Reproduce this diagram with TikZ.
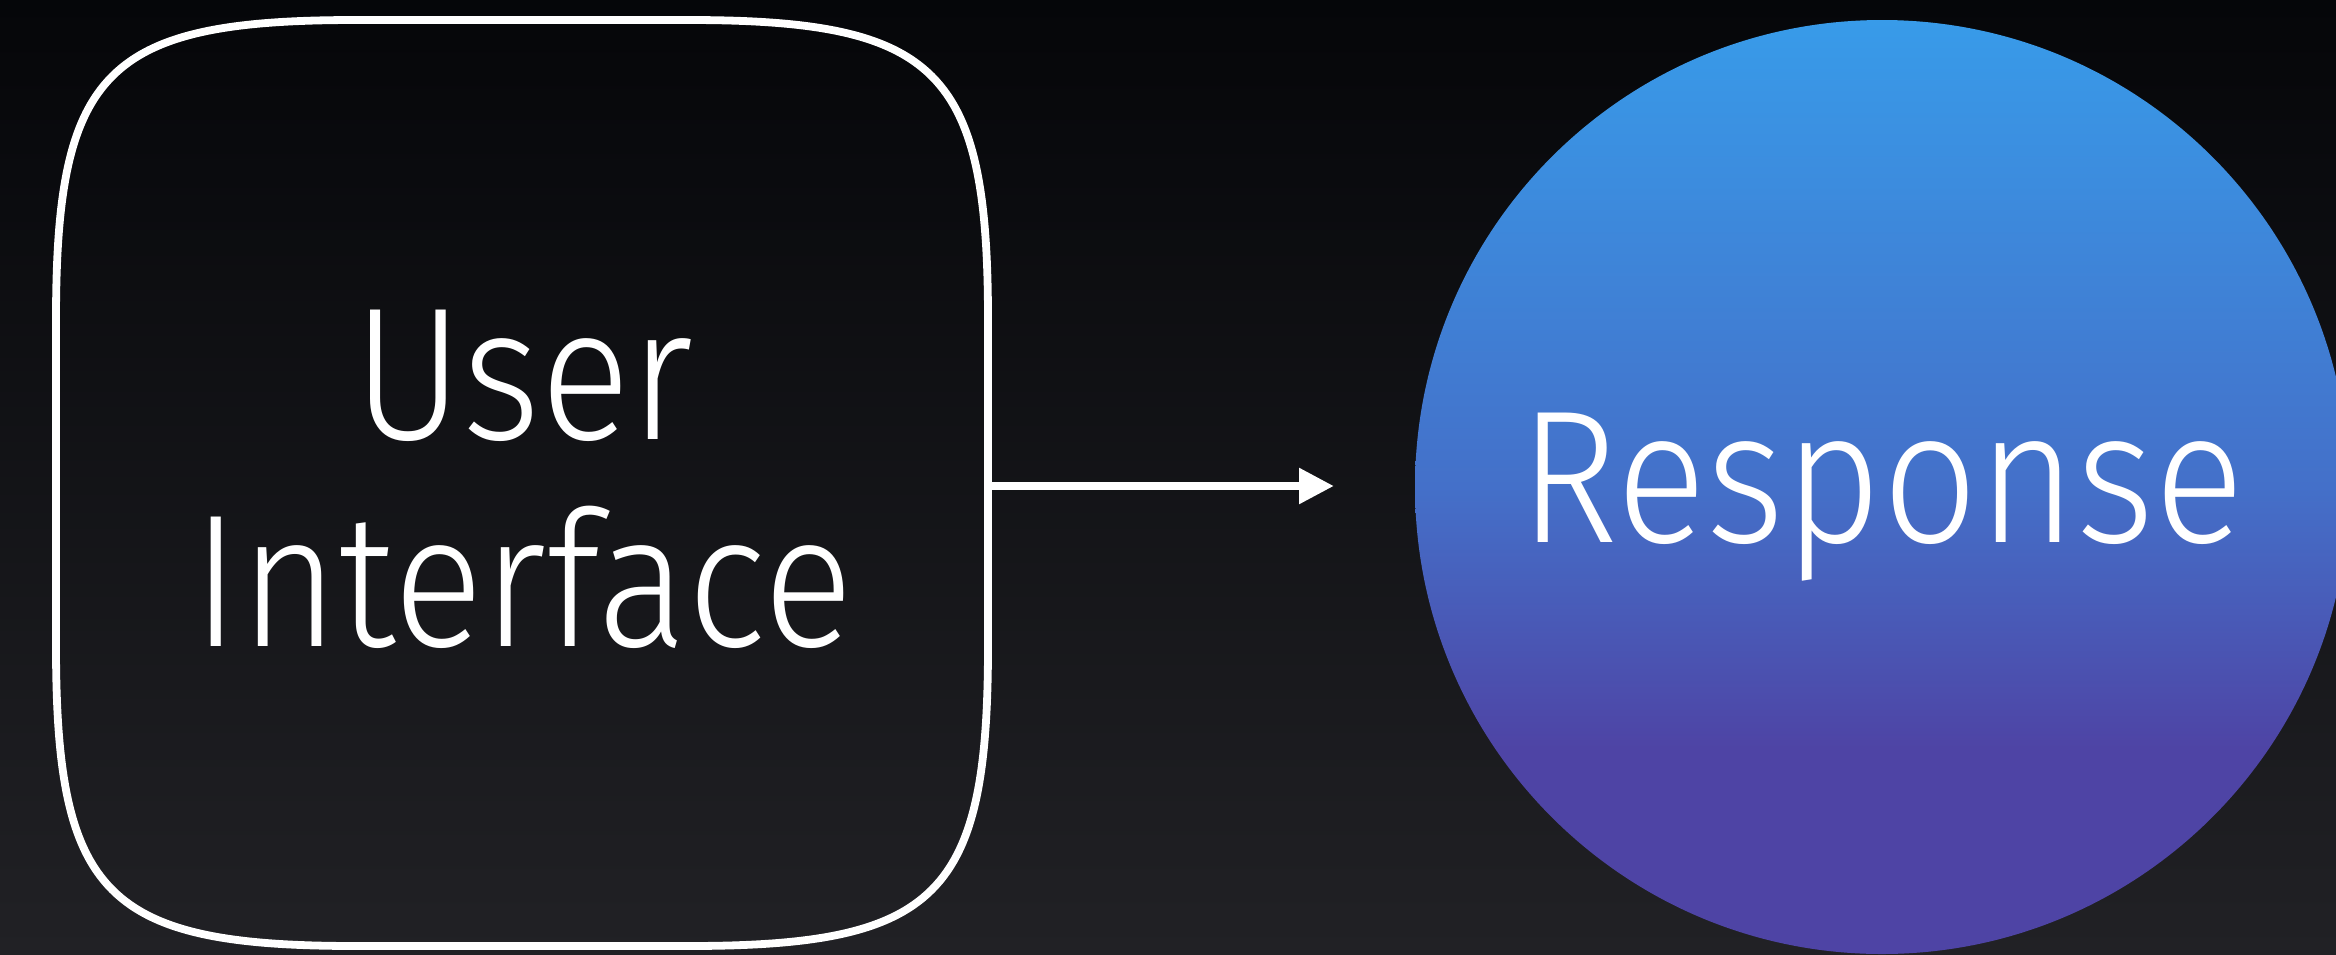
\documentclass[tikz,border=0pt]{standalone}
\usepackage{fontspec}
\setmainfont{Fira Sans}[UprightFont={* Light}, FakeStretch=0.89]
\usetikzlibrary{arrows.meta,calc}
\definecolor{bgtop}{HTML}{050609}
\definecolor{bgbot}{HTML}{212125}
\definecolor{cblue}{HTML}{389BE9}
\definecolor{cmid}{HTML}{4470C9}
\definecolor{cpurp}{HTML}{4E44A5}
\pgfdeclareverticalshading{respshade}{100bp}{color(0bp)=(cpurp); color(36bp)=(cpurp); color(50bp)=(cmid); color(75bp)=(cblue); color(100bp)=(cblue)}
\tikzset{
  lbl/.style={text=white, font=\fontsize{189}{207}\selectfont, align=center, inner sep=0pt},
  outline/.style={draw=white, line width=7.8pt},
  arr/.style={draw=white, line width=8.5pt, -{Triangle[length=35pt,width=34pt]}}
}
\begin{document}
\begin{tikzpicture}[x=1pt,y=-1pt]
\useasboundingbox (0,0) rectangle (2336,954);
\fill[top color=bgtop, bottom color=bgbot] (0,0) rectangle (2336,954);
\node[lbl, minimum width=932pt, minimum height=926pt] (ui) at (522,483) {};
\node[lbl] (uitext) at (523,479) {User\\Interface};
\draw[outline] (56,320) .. controls (56,70) and (106,20) .. (356,20) -- (688,20)
  .. controls (938,20) and (988,70) .. (988,320) -- (988,646)
  .. controls (988,896) and (938,946) .. (688,946) -- (356,946)
  .. controls (106,946) and (56,896) .. (56,646) -- cycle;
\node[circle, minimum size=934pt, shading=respshade] (resp) at (1882,487) {};
\node[lbl] (resptext) at (1882,497) {Response};
\coordinate (tip) at (1334,486);
\draw[arr] ([yshift=-3pt]ui.east) -- (tip);
\end{tikzpicture}
\end{document}
